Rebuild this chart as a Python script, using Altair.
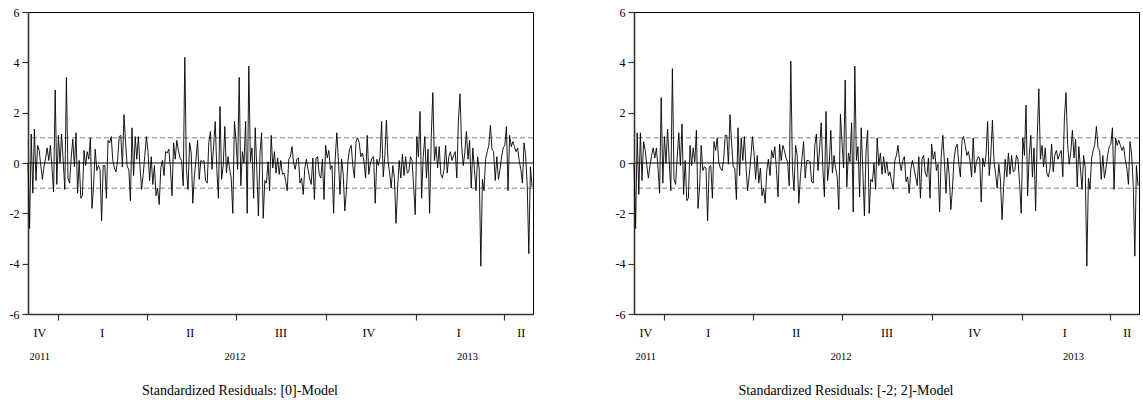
import altair as alt
import pandas as pd

# Standardized residuals ([0]-Model, left panel)
LEFT_RESID = [
    0.0, -2.6, 1.15, -1.2, 1.35, -0.7, 0.7, 0.5, -0.1, -0.65,
    -0.15, 0.2, 0.6, 0.1, 0.7, -0.2, -1.15, 2.9, -0.85, 1.1,
    0.0, 1.15, 0.1, -1.05, 3.4, -0.6, -0.8, 0.2, 0.95, -0.15,
    1.2, -1.2, 0.1, -1.4, -1.3, 0.5, -0.1, 0.45, 0.15, 1.0,
    -1.8, -0.9, 0.55, -0.3, -0.1, -0.25, -2.3, -0.1, -0.1, -1.4,
    0.9, 0.8, 1.05, 0.1, -0.2, -0.35, 0.1, 1.05, 1.1, -0.15,
    1.92, 0.8, -0.15, -0.25, -1.5, 1.4, -0.5, 1.05, 0.15, 1.05,
    -0.15, -1.05, -0.45, 0.3, 1.05, 0.45, -0.7, 0.25, -0.85, -0.1,
    -1.3, -1.0, -1.65, -0.2, 0.1, -0.5, 0.45, 0.4, 0.55, -0.2,
    -1.3, 0.8, 0.15, 0.9, 0.5, 0.2, 0.1, -0.9, 4.2, -0.25,
    -1.05, 0.8, 0.4, -1.6, -0.5,
    0.15, 0.9, -0.65, 0.1, 0.05, 0.1, -0.7, -0.8, 0.8, 1.25,
    -0.25, 0.65, 1.65, -0.25, -1.4, 2.25, -0.65, -0.1, 1.45, -0.4,
    0.25, -0.25, -0.6, -2.0, 1.65, 0.9, -0.25, 3.4, -0.9, 0.45,
    0.0, 1.65, -2.0, 3.85, 0.05, 0.6, -1.4, 1.4, -0.25, -2.1,
    0.4, 1.2, -2.2, -0.7, -0.8, 0.05, -1.1, 1.1, -0.2, 0.45,
    -0.4, 0.2, -0.45, 0.1, -0.45, -0.4, -0.7, -1.1, 0.15, 0.25,
    0.65, 0.0, -0.25, 0.15, 0.2, -0.8, -0.6, -1.25, -0.2, 0.15,
    -0.25, -0.6, -0.85, 0.2, -1.45, 0.2, 0.25, -0.45, -0.6, 0.15,
    -1.45, 0.7, 0.2, 0.5, -0.25, -0.1, -2.0, 0.2, 1.2, 0.1,
    -1.25, 0.15, -0.45, -1.9, -1.1, 0.1, 0.55, 0.7, -0.1, -0.6,
    0.85, 1.0, 0.8, 0.25, 0.4,
    0.05, -0.6, 1.1, -0.45, 0.0, 0.2, 0.25, -1.6, 0.15, -0.1,
    0.25, 1.65, -0.55, 0.25, 1.7, 0.1, -0.4, -1.0, -0.1, -0.6,
    -2.4, -1.0, 0.1, -0.6, 0.35, -0.5, 0.25, -0.4, -0.35, 0.25,
    0.1, -0.9, -2.05, 1.05, 0.25, 2.05, -1.4, 0.25, 1.05, -0.6,
    0.55, -2.0, 1.0, 2.8, 0.1, 0.65, -0.2, 0.65, -0.45, -0.6,
    -0.25, 0.7, -0.4, 0.25, 0.45, 0.1, 0.3, 0.45, -0.6, 1.7,
    2.75, 0.7, -0.1, 0.4, 1.25, 0.15, 0.9, -1.0, 0.6, -0.25,
    -1.1, 0.25, -0.25, -4.1, -0.65, -1.1, 0.15, 0.45, 0.7, 1.5,
    0.55, 0.45, -0.7, 0.25, -0.65, -0.25, 0.25, 0.6, 0.7, 1.45,
    -1.1, 1.1, 0.65, 0.85, 0.65, 0.45, 0.6, 0.1, -0.25, -0.8,
    0.8, 0.3, -0.9, -3.6, -0.15, -0.95,
]

# Standardized residuals ([-2; 2]-Model, right panel)
RIGHT_RESID = [
    0.0, -2.6, 1.2, -1.25, 1.2, -0.7, 0.85, 0.5, -0.1, -0.6,
    -0.1, 0.3, 0.6, 0.2, 0.6, -0.2, -1.2, 2.6, -0.8, 1.05,
    0.0, 1.35, 0.1, -1.1, 3.75, -0.65, -0.85, 0.2, 1.2, -0.1,
    1.55, -1.25, 0.1, -1.5, -1.4, 0.7, -0.1, 0.6, 0.05, 1.3,
    -1.8, -0.95, 0.7, -0.3, -0.15, -0.2, -2.3, -0.15, -0.1, -1.4,
    0.85, 0.5, 1.0, 0.0, -0.2, -0.3, 0.1, 1.1, 1.1, -0.05,
    1.92, 0.8, -0.15, -0.2, -1.45, 1.4, -0.5, 1.0, 0.1, 1.05,
    -0.15, -1.1, -0.5, 0.2, 1.05, 0.4, -0.65, 0.3, -0.8, -0.2,
    -1.3, -1.0, -1.6, -0.3, 0.15, -0.5, 0.5, 0.2, 0.65, -0.25,
    -1.35, 0.75, 0.1, 0.7, 0.5, 0.2, 0.05, -0.9, 4.05, -0.2,
    -1.1, 0.7, 0.3, -1.6, -0.55,
    0.2, 0.85, -0.6, 0.1, 0.1, 0.05, -0.75, -0.8, 0.7, 1.15,
    -0.3, 0.6, 1.6, -0.2, -1.35, 2.05, -0.7, -0.05, 1.3, -0.4,
    0.3, -0.2, -0.55, -1.85, 1.95, 0.8, -0.2, 3.3, -0.95, 0.4,
    0.05, 1.6, -1.95, 3.85, 0.1, 0.65, -1.35, 1.4, -0.3, -2.1,
    0.45, 1.3, -2.0, -0.65, -0.75, 0.0, -1.05, 1.0, -0.1, 0.4,
    -0.45, 0.25, -0.4, 0.05, -0.5, -0.35, -0.75, -1.05, 0.1, 0.3,
    0.7, 0.05, -0.3, 0.1, 0.25, -0.75, -0.55, -1.2, -0.25, 0.1,
    -0.2, -0.55, -0.9, 0.25, -1.4, 0.15, 0.3, -0.4, -0.55, 0.2,
    -1.4, 0.75, 0.15, 0.45, -0.3, -0.05, -1.95, 0.25, 1.1, 0.05,
    -1.2, 0.2, -0.5, -1.85, -1.05, 0.15, 0.6, 0.75, -0.05, -0.55,
    0.9, 1.05, 0.7, 0.3, 0.45,
    0.1, -0.55, 1.0, -0.4, 0.05, 0.25, 0.2, -1.55, 0.2, -0.15,
    0.3, 1.65, -0.5, 0.3, 1.7, 0.05, -0.45, -1.0, -0.05, -0.65,
    -2.25, -0.95, 0.15, -0.55, 0.4, -0.45, 0.3, -0.35, -0.3, 0.3,
    0.15, -0.85, -2.0, 1.0, 0.3, 2.3, -1.3, 0.3, 1.1, -0.55,
    0.6, -1.9, 1.05, 2.95, 0.15, 0.7, -0.15, 0.6, -0.4, -0.55,
    -0.2, 0.75, -0.35, 0.3, 0.5, 0.15, 0.35, 0.5, -0.55, 1.8,
    2.8, 0.75, -0.05, 0.45, 1.3, 0.2, 0.95, -0.95, 0.65, -0.2,
    -1.05, 0.3, -0.2, -4.1, -0.6, -1.05, 0.2, 0.5, 0.75, 1.45,
    0.6, 0.5, -0.65, 0.3, -0.6, -0.2, 0.3, 0.65, 0.75, 1.4,
    -1.05, 1.0, 0.7, 0.9, 0.7, 0.5, 0.65, 0.15, -0.2, -0.85,
    0.85, 0.35, -0.85, -3.7, -0.1, -0.9,
]

SERIES_START = "2011-12-01"
SERIES_END = "2013-04-30"

QUARTER_BOUNDS = [(2012, 1), (2012, 4), (2012, 7), (2012, 10), (2013, 1), (2013, 4)]
QUARTER_NAMES = ["IV", "I", "II", "III", "IV", "I", "II"]
QUARTER_MIDS = ["2011-12-13", "2012-02-15", "2012-05-15", "2012-08-16", "2012-11-14", "2013-02-14", "2013-04-19"]
YEAR_NAMES = ["2011", "2012", "2013"]
YEAR_MIDS = ["2011-12-13", "2012-06-30", "2013-02-23"]
BAND_LEVELS = [-1, 1]
ZERO_LEVEL = [0]
Y_TICKS = [-6, -4, -2, 0, 2, 4, 6]
TITLES = ["Standardized Residuals: [0]-Model", "Standardized Residuals: [-2; 2]-Model"]

FONT = "Liberation Serif"
W, H = 505, 302


def panel(values, title):
    df = pd.DataFrame({
        "date": pd.date_range(SERIES_START, SERIES_END, periods=len(values)),
        "resid": values,
    })
    xdom = [alt.DateTime(year=2011, month=12, date=1), alt.DateTime(year=2013, month=5, date=1)]
    x = alt.X(
        "date:T",
        scale=alt.Scale(domain=xdom),
        axis=alt.Axis(
            values=[alt.DateTime(year=y, month=m, date=1) for y, m in QUARTER_BOUNDS],
            labels=False, title=None, tickSize=6, grid=False,
        ),
    )
    y = alt.Y(
        "resid:Q",
        scale=alt.Scale(domain=[-6, 6], nice=False, zero=False),
        axis=alt.Axis(
            values=Y_TICKS, tickSize=6, labelPadding=3, title=None, grid=False,
            labelExpr="'' + datum.value", labelFont=FONT, labelFontSize=12,
        ),
    )
    line = alt.Chart(df).mark_line(color="black", strokeWidth=0.9).encode(x=x, y=y)

    bands = alt.Chart(pd.DataFrame({"lvl": BAND_LEVELS})).mark_rule(
        color="#808080", strokeWidth=1, strokeDash=[5, 3]
    ).encode(y=alt.Y("lvl:Q"))
    zero = alt.Chart(pd.DataFrame({"lvl": ZERO_LEVEL})).mark_rule(
        color="black", strokeWidth=1
    ).encode(y=alt.Y("lvl:Q"))

    qdf = pd.DataFrame({"date": pd.to_datetime(QUARTER_MIDS), "lab": QUARTER_NAMES})
    qtext = alt.Chart(qdf).mark_text(font=FONT, fontSize=12, baseline="middle", color="black").encode(
        x=alt.X("date:T"), y=alt.value(H + 19), text="lab:N"
    )
    ydf = pd.DataFrame({"date": pd.to_datetime(YEAR_MIDS), "lab": YEAR_NAMES})
    ytext = alt.Chart(ydf).mark_text(font=FONT, fontSize=10.5, baseline="middle", color="black").encode(
        x=alt.X("date:T"), y=alt.value(H + 43), text="lab:N"
    )
    tdf = pd.DataFrame({"t": [title]})
    ttext = alt.Chart(tdf).mark_text(font=FONT, fontSize=14, baseline="middle", color="black").encode(
        x=alt.value(212), y=alt.value(H + 77), text="t:N"
    )
    return alt.layer(bands, zero, line, qtext, ytext, ttext).properties(width=W, height=H)


chart = alt.hconcat(
    panel(LEFT_RESID, TITLES[0]),
    panel(RIGHT_RESID, TITLES[1]),
    spacing=79,
).properties(
    padding={"left": 8, "top": 5, "right": 2, "bottom": 0}
).configure_view(
    stroke="black", strokeWidth=1
).configure_axis(
    labelFont=FONT, labelFontSize=12, labelColor="black",
    domainColor="#333333", domainWidth=1.6, tickColor="#333333", tickWidth=1.2,
)

chart.save("out.html", embed_options={"renderer": "svg", "actions": False})
